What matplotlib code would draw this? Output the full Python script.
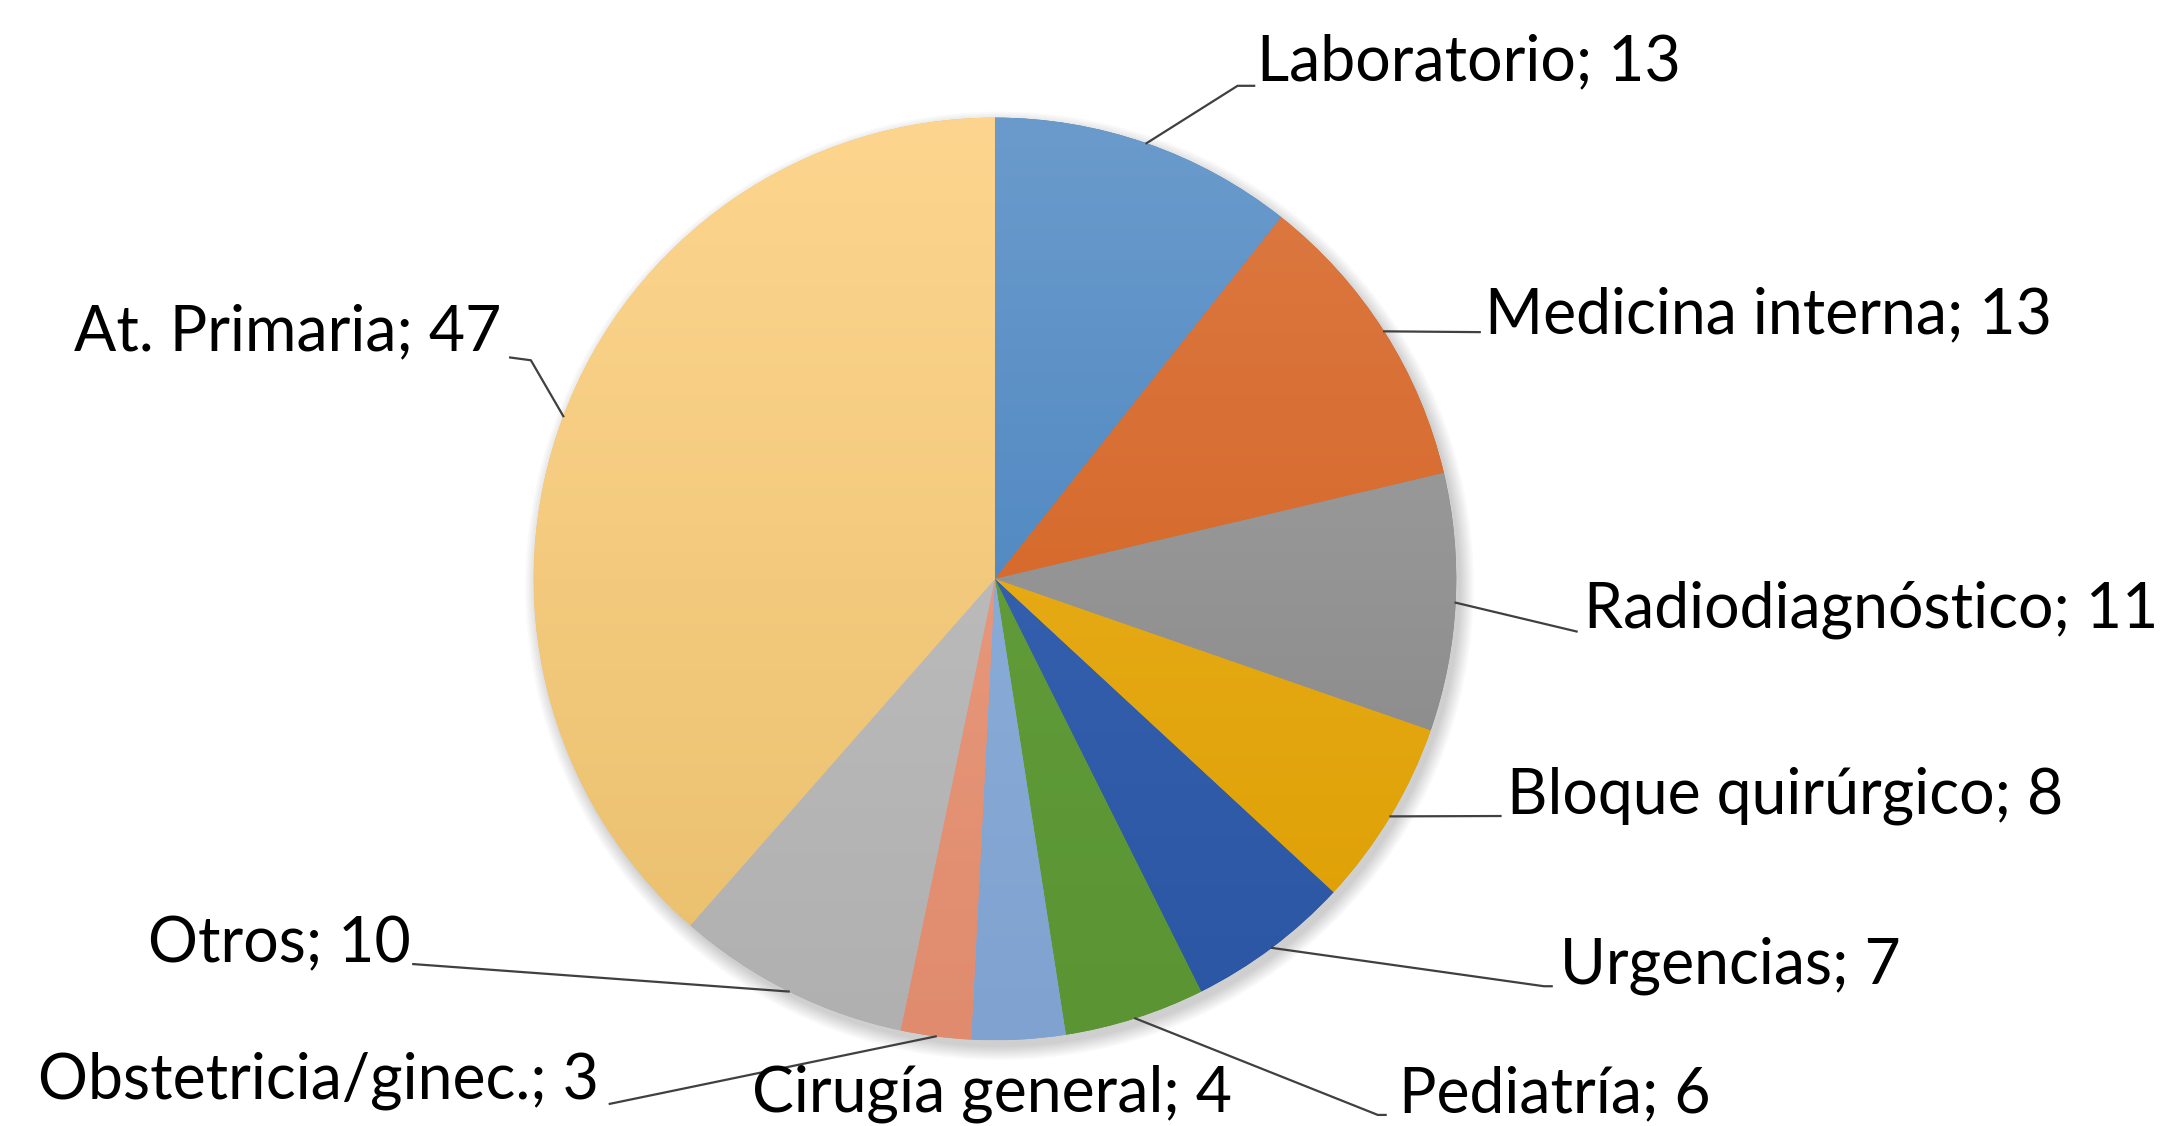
import numpy as np
import matplotlib
matplotlib.use('Agg')
import matplotlib.pyplot as plt
from matplotlib.colors import to_rgb
from matplotlib.patches import Circle

plt.rcParams['font.family'] = ['Lato', 'DejaVu Sans']

# data
labels = ['Laboratorio', 'Medicina interna', 'Radiodiagnóstico', 'Bloque quirúrgico',
          'Urgencias', 'Pediatría', 'Cirugía general', 'Obstetricia/ginec.',
          'Otros', 'At. Primaria']
values = [13, 13, 11, 8, 7, 6, 4, 3, 10, 47]

# gradient colours (top, bottom)
top_colors = ['#6b9bcc', '#dc7a44', '#a6a6a6', '#efb52a', '#3c68b8',
              '#68a33f', '#94b4de', '#eea387', '#c4c4c4', '#fdd58e']
bot_colors = ['#3b7aba', '#d25c17', '#828282', '#dc9e00', '#2b56a3',
              '#5a9433', '#7fa2d0', '#e08b6d', '#b0b0b0', '#e9bf6c']

# label layout: text position, alignment, leader end points (data units, radius = 1)
text_pos = [(0.568, 1.12), (1.063, 0.571), (1.276, -0.066), (1.111, -0.471),
            (1.225, -0.838), (0.877, -1.117), (-0.006, -1.117), (-0.859, -1.087),
            (-1.267, -0.793), (-1.069, 0.535)]
text_ha = ['left', 'left', 'left', 'left', 'left', 'left', 'center', 'right', 'right', 'right']
leaders = [[(0.526, 1.069), (0.562, 1.069)],
           [(1.051, 0.535)],
           [(1.261, -0.114)],
           [(1.096, -0.514)],
           [(1.19, -0.883), (1.207, -0.883)],
           [(0.83, -1.162), (0.847, -1.162)],
           None,
           [(-0.835, -1.138)],
           [(-1.261, -0.835)],
           [(-1.006, 0.474), (-1.051, 0.480)]]

fig = plt.figure(figsize=(21.73, 11.26), dpi=100)
ax = fig.add_axes([0, 0, 1, 1])
ax.set_aspect('equal')
ax.axis('off')

# soft shadow
for k in range(8):
    ax.add_patch(Circle((0.01, -0.015), 1.0 + 0.004 * k, color='black',
                        alpha=0.025, lw=0, zorder=0))

wedges, _ = ax.pie(values, startangle=90, counterclock=False, radius=1,
                   colors=bot_colors, wedgeprops=dict(lw=0))
ax.set_xlim(-2.156, 2.553)
ax.set_ylim(-1.186, 1.255)

t = np.linspace(0, 1, 256)[:, None]
for w, ct, cb in zip(wedges, top_colors, bot_colors):
    ct, cb = np.array(to_rgb(ct)), np.array(to_rgb(cb))
    img = ct[None, None, :] * (1 - t[:, :, None]) + cb[None, None, :] * t[:, :, None]
    im = ax.imshow(np.repeat(img, 2, axis=1), extent=[-1, 1, -1, 1], origin='upper',
                   zorder=2, interpolation='bilinear')
    im.set_clip_path(w)
ax.set_xlim(-2.156, 2.553)
ax.set_ylim(-1.186, 1.255)

total = sum(values)
cum = np.cumsum([0] + values)
for i, lab in enumerate(labels):
    mid = 90 - (cum[i] + values[i] / 2) / total * 360
    a = np.deg2rad(mid)
    if leaders[i] is not None:
        pts = [(np.cos(a), np.sin(a))] + leaders[i]
        xs, ys = zip(*pts)
        ax.plot(xs, ys, color='#404040', lw=1.6, zorder=3)
    ax.text(text_pos[i][0], text_pos[i][1], f'{lab}; {values[i]}', ha=text_ha[i],
            va='center', fontsize=45, color='black', zorder=4)

fig.savefig('out.png', dpi=100, facecolor='white')
